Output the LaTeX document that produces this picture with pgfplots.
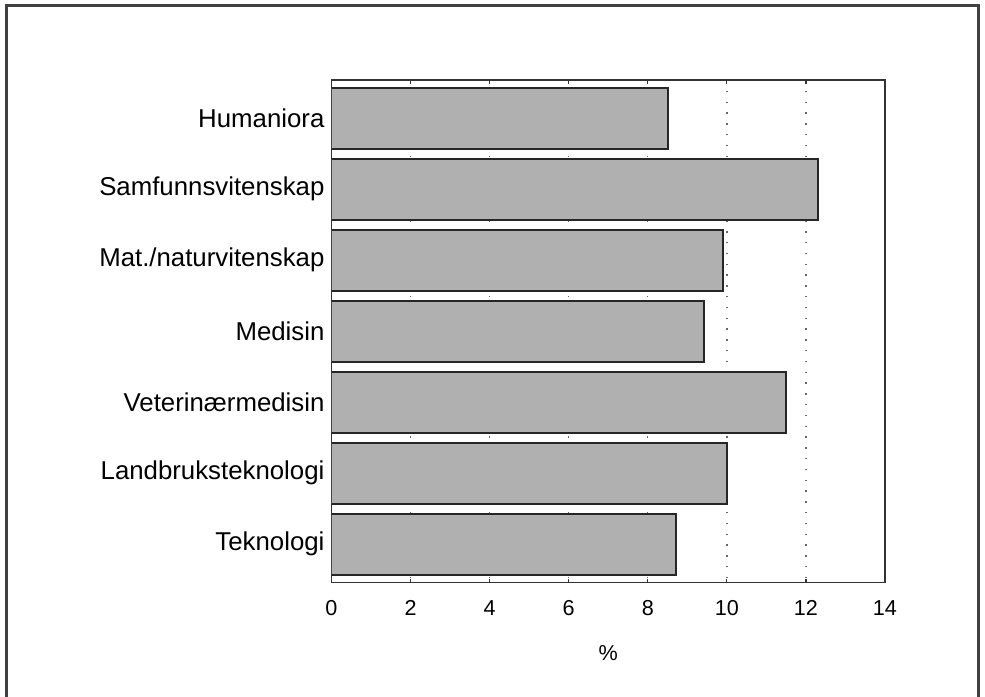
\documentclass[border=0pt]{standalone}
\usepackage{fontspec}
\setmainfont{Liberation Sans}
\usepackage{pgfplots}
\pgfplotsset{compat=1.18}
\begin{document}
\begin{tikzpicture}
\useasboundingbox (-165.75pt,-56.75pt) rectangle (326.75pt,291.25pt);
\draw[line width=1.5pt, black!75] (-162.25pt,-60pt) -- (-162.25pt,288.25pt) -- (323.25pt,288.25pt) -- (323.25pt,-60pt);
\begin{axis}[
  at={(0,0)}, anchor=south west,
  scale only axis, width=276.75pt, height=251.25pt,
  xbar, bar width=30.5pt,
  xmin=0, xmax=14, ymin=-0.54, ymax=6.54, y dir=reverse,
  xtick={0,2,...,14}, ytick={0,1,2,3,4,5,6},
  yticklabels={Humaniora,Samfunnsvitenskap,Mat./naturvitenskap,Medisin,Veterin\ae rmedisin,Landbruksteknologi,Teknologi},
  /pgf/number format/assume math mode=true,
  tick align=inside, major tick length=2pt,
  xtick style={black!80, line width=0.6pt},
  ytick style={draw=none},
  xticklabel style={font=\fontsize{10.8}{13}\selectfont, yshift=-5.5pt},
  yticklabel style={font=\fontsize{12.9}{15}\selectfont},
  xmajorgrids,
  grid style={black!60, line width=0.7pt, dash pattern=on 0.7pt off 4.7pt},
  axis line style={black!80, line width=0.8pt},
  xlabel={\%},
  xlabel style={at={(axis description cs:0.5,0)}, anchor=center, yshift=-35.25pt, font=\fontsize{10.8}{13}\selectfont},
]
\addplot[fill=black!31, draw=black!85, line width=1pt] coordinates {
 (8.5,0) (12.3,1) (9.9,2) (9.42,3) (11.5,4) (10.0,5) (8.72,6)
};
\end{axis}
\end{tikzpicture}
\end{document}
